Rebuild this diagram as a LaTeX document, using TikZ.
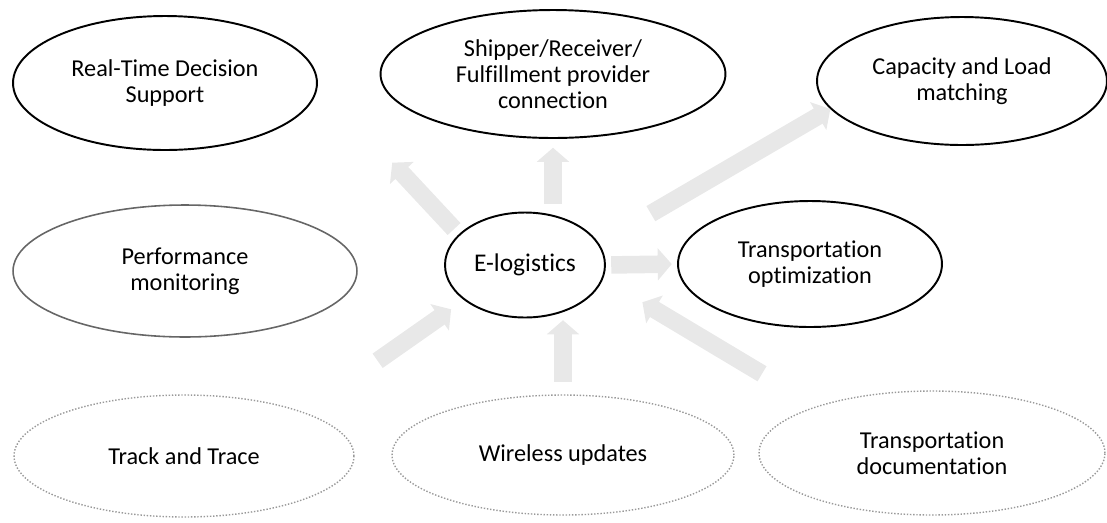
\documentclass[tikz,border=0pt]{standalone}
\usepackage{fontspec}
\setmainfont{Carlito}[Ligatures=NoCommon]
\usetikzlibrary{shapes.geometric,arrows.meta}

\begin{document}
\begin{tikzpicture}[x=0.02cm,y=-0.02cm,
		bubble/.style={ellipse,draw=black,line width=1.1pt,inner sep=0pt,align=center,
			font=\fontsize{13.8}{14.8}\selectfont},
		pale/.style={bubble,draw=black!60,line width=0.9pt},
		faint/.style={bubble,draw=black!40,line width=0.8pt,densely dotted},
		link/.style={line width=10pt,draw=black!9,-{Triangle[width=18pt,length=8pt]}}]
	\useasboundingbox (0,0) rectangle (1107,522);
	% outer ring
	\node[bubble,minimum width=6.08cm,minimum height=2.68cm] (rtds) at (165,83) {Real-Time Decision\\Support};
	\node[bubble,minimum width=6.9cm,minimum height=2.56cm] (ship) at (553,74) {Shipper/Receiver/\\Fulfillment provider\\connection};
	\node[bubble,minimum width=5.8cm,minimum height=2.56cm] (cap) at (962,81) {Capacity and Load\\matching};
	\node[pale,minimum width=6.88cm,minimum height=2.64cm] (perf) at (185,271) {Performance\\monitoring};
	\node[bubble,minimum width=5.28cm,minimum height=2.52cm] (topt) at (810,264) {Transportation\\optimization};
	\node[faint,minimum width=6.8cm,minimum height=2.44cm] (track) at (184,456) {Track and Trace};
	\node[faint,minimum width=6.84cm,minimum height=2.4cm] (wire) at (563,455) {Wireless updates};
	\node[faint,minimum width=6.92cm,minimum height=2.48cm] (doc) at (932,453) {Transportation\\documentation};
	% hub
	\node[bubble,minimum width=3.2cm,minimum height=2.1cm,font=\fontsize{14.5}{16}\selectfont] (elog) at (525,265) {E-logistics};
	% arrows
	\draw[link,shorten <=4.5pt,shorten >=5pt] (ship.south |- elog.north) -- (ship.south);
	\draw[link,shorten <=34pt] (elog.16) -- (cap.192);
	\draw[link,shorten <=3pt,shorten >=3pt] (elog.east) -- (topt.west);
	\draw[link,shorten <=4pt,shorten >=62pt] (elog.155) -- (rtds.east);
	\draw[link,shorten <=36pt,shorten >=26pt] (doc.158) -- (elog.-10);
	\draw[link,shorten <=7pt,shorten >=1pt] (wire.north) -- (wire.north |- elog.south);
	\draw[link,shorten <=51pt,shorten >=9pt] (track.20) -- (elog.210);
\end{tikzpicture}
\end{document}
